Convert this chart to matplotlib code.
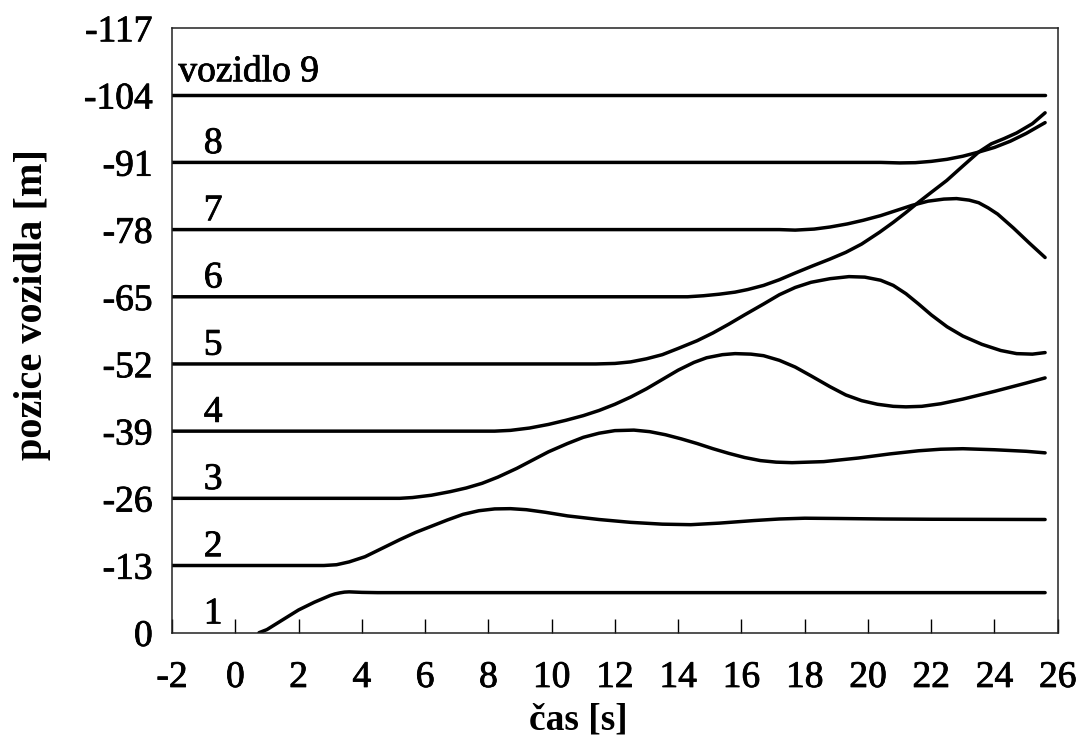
import matplotlib
matplotlib.use("Agg")
import matplotlib.pyplot as plt
import matplotlib.patheffects as pe

plt.rcParams['font.family'] = ['Liberation Serif', 'DejaVu Serif']
plt.rcParams['axes.unicode_minus'] = False

# vehicle positions [m] over time [s]
v1_t = [0.75, 1.0, 1.5, 2.0, 2.5, 3.0, 3.15, 3.3, 3.45, 3.6, 4.0, 4.5, 25.6]
v1_y = [0, -0.6, -2.5, -4.4, -5.9, -7.2, -7.5, -7.7, -7.85, -7.9, -7.8, -7.75, -7.75]

v2_t = [-2, 2.8, 3.2, 3.6, 4.1, 4.6, 5.2, 5.7, 6.2, 6.7, 7.2, 7.7, 8.2, 8.7, 9.2, 9.8,
        10.5, 11.5, 12.5, 13.5, 14.4, 15.3, 16.4, 17.2, 18.0, 19.0, 20.5, 22.0, 25.6]
v2_y = [-13, -13, -13.15, -13.7, -14.7, -16.2, -18.0, -19.4, -20.6, -21.8, -22.9, -23.6,
        -23.95, -24.0, -23.8, -23.3, -22.6, -21.9, -21.35, -21.0, -20.9, -21.2, -21.7,
        -22.0, -22.15, -22.1, -22.0, -21.95, -21.9]

v3_t = [-2, 5.2, 5.6, 6.2, 6.8, 7.3, 7.8, 8.3, 8.9, 9.4, 9.9, 10.5, 11.0, 11.5, 12.0,
        12.6, 13.1, 13.6, 14.1, 14.6, 15.1, 15.6, 16.1, 16.6, 17.1, 17.6, 18.6, 19.7,
        20.7, 21.6, 22.3, 23.0, 24.0, 25.0, 25.6]
v3_y = [-26, -26, -26.15, -26.6, -27.3, -28.0, -28.9, -30.1, -31.8, -33.4, -35.0, -36.6,
        -37.8, -38.6, -39.1, -39.2, -38.9, -38.3, -37.5, -36.6, -35.6, -34.7, -33.9,
        -33.3, -33.0, -32.9, -33.1, -33.8, -34.6, -35.2, -35.5, -35.6, -35.4, -35.1, -34.8]

v4_t = [-2, 8.2, 8.7, 9.3, 9.9, 10.45, 11.0, 11.5, 12.0, 12.5, 13.0, 13.5, 14.0, 14.5,
        14.9, 15.4, 15.8, 16.3, 16.7, 17.2, 17.7, 18.2, 18.8, 19.3, 19.8, 20.3, 20.8,
        21.2, 21.7, 22.3, 23.0, 24.0, 25.0, 25.6]
v4_y = [-39, -39, -39.15, -39.6, -40.3, -41.1, -42.0, -43.0, -44.2, -45.6, -47.2, -49.0,
        -50.8, -52.3, -53.2, -53.8, -54.0, -53.9, -53.6, -52.7, -51.4, -49.7, -47.6,
        -46.0, -44.9, -44.2, -43.8, -43.7, -43.8, -44.3, -45.2, -46.7, -48.3, -49.3]

v5_t = [-2, 11.4, 12.0, 12.5, 13.0, 13.5, 14.0, 14.6, 15.1, 15.6, 16.1, 16.7, 17.2,
        17.7, 18.2, 18.8, 19.4, 19.9, 20.4, 20.8, 21.2, 21.6, 22.0, 22.5, 23.0, 23.6,
        24.2, 24.7, 25.2, 25.6]
v5_y = [-52, -52, -52.1, -52.4, -53.0, -53.8, -55.0, -56.5, -58.0, -59.7, -61.5, -63.6,
        -65.4, -66.8, -67.8, -68.5, -68.9, -68.8, -68.2, -67.2, -65.6, -63.6, -61.5,
        -59.2, -57.4, -55.8, -54.6, -54.0, -53.9, -54.2]

v6_t = [-2, 14.3, 14.8, 15.3, 15.8, 16.2, 16.7, 17.2, 17.7, 18.26, 18.8, 19.3, 19.8,
        20.37, 20.8, 21.2, 21.6, 22.0, 22.49, 23.0, 23.5, 23.9, 24.3, 24.7, 25.2, 25.6]
v6_y = [-65, -65, -65.2, -65.5, -65.9, -66.4, -67.2, -68.3, -69.6, -71.0, -72.3, -73.6,
        -75.2, -77.5, -79.4, -81.3, -83.3, -85.2, -87.5, -90.3, -93.0, -94.6, -95.6,
        -96.7, -98.5, -100.6]

v7_t = [-2, 17.2, 17.7, 18.3, 18.8, 19.35, 19.85, 20.4, 20.9, 21.4, 21.9, 22.4, 22.8,
        23.2, 23.5, 23.8, 24.1, 24.6, 25.1, 25.6]
v7_y = [-78, -78, -77.9, -78.1, -78.5, -79.1, -79.8, -80.7, -81.7, -82.7, -83.5, -83.9,
        -84.0, -83.7, -83.2, -82.2, -81.0, -78.3, -75.4, -72.6]

v8_t = [-2, 20.4, 21.0, 21.5, 22.0, 22.5, 23.0, 23.5, 24.0, 24.5, 25.0, 25.6]
v8_y = [-91, -91, -90.9, -90.95, -91.2, -91.6, -92.2, -93.0, -93.9, -95.1, -96.6, -98.7]

v9_t = [-2, 25.6]
v9_y = [-104, -104]

series = [(v1_t, v1_y), (v2_t, v2_y), (v3_t, v3_y), (v4_t, v4_y), (v5_t, v5_y),
          (v6_t, v6_y), (v7_t, v7_y), (v8_t, v8_y), (v9_t, v9_y)]
labels = ['1', '2', '3', '4', '5', '6', '7', '8', 'vozidlo 9']
bases = [0, -13, -26, -39, -52, -65, -78, -91, -104]

xticks = list(range(-2, 27, 2))
yticks = [0, -13, -26, -39, -52, -65, -78, -91, -104, -117]

# slightly heavier rendering of the regular serif text, like the original
heavy = [pe.withStroke(linewidth=0.6, foreground='black')]

fig = plt.figure(figsize=(10.8, 7.38), dpi=100)
ax = fig.add_axes([0.1593, 0.1427, 0.8201, 0.8193])

for t, y in series:
    ax.plot(t, y, color='black', lw=2.5, solid_capstyle='round', solid_joinstyle='round')

for lab, b in zip(labels, bases):
    if lab.startswith('vozidlo'):
        ax.text(-1.8, b - 2.7, lab, fontsize=27, ha='left', va='baseline', path_effects=heavy)
    else:
        ax.text(-0.7, b - 1.8, lab, fontsize=27, ha='center', va='baseline', path_effects=heavy)

ax.set_xlim(-2, 26)
ax.set_ylim(0, -117)
ax.set_xticks(xticks)
ax.set_yticks(yticks)
ax.set_yticklabels([str(v) for v in yticks])
ax.tick_params(axis='x', direction='in', length=10, width=1, pad=20, labelsize=27)
ax.tick_params(axis='y', length=0, pad=14, labelsize=27)
for lbl in ax.get_xticklabels() + ax.get_yticklabels():
    lbl.set_path_effects(heavy)
for s in ax.spines.values():
    s.set_linewidth(1.1)
    s.set_color('#222222')

fig.text(578 / 1080, 1 - 730 / 738, 'čas [s]', fontsize=27, fontweight='bold',
         ha='center', va='baseline')
fig.text(33 / 1080, 1 - 305 / 738, 'pozice vozidla [m]', fontsize=29, fontweight='bold',
         rotation=90, ha='center', va='center')

fig.savefig('out.png', dpi=100)
